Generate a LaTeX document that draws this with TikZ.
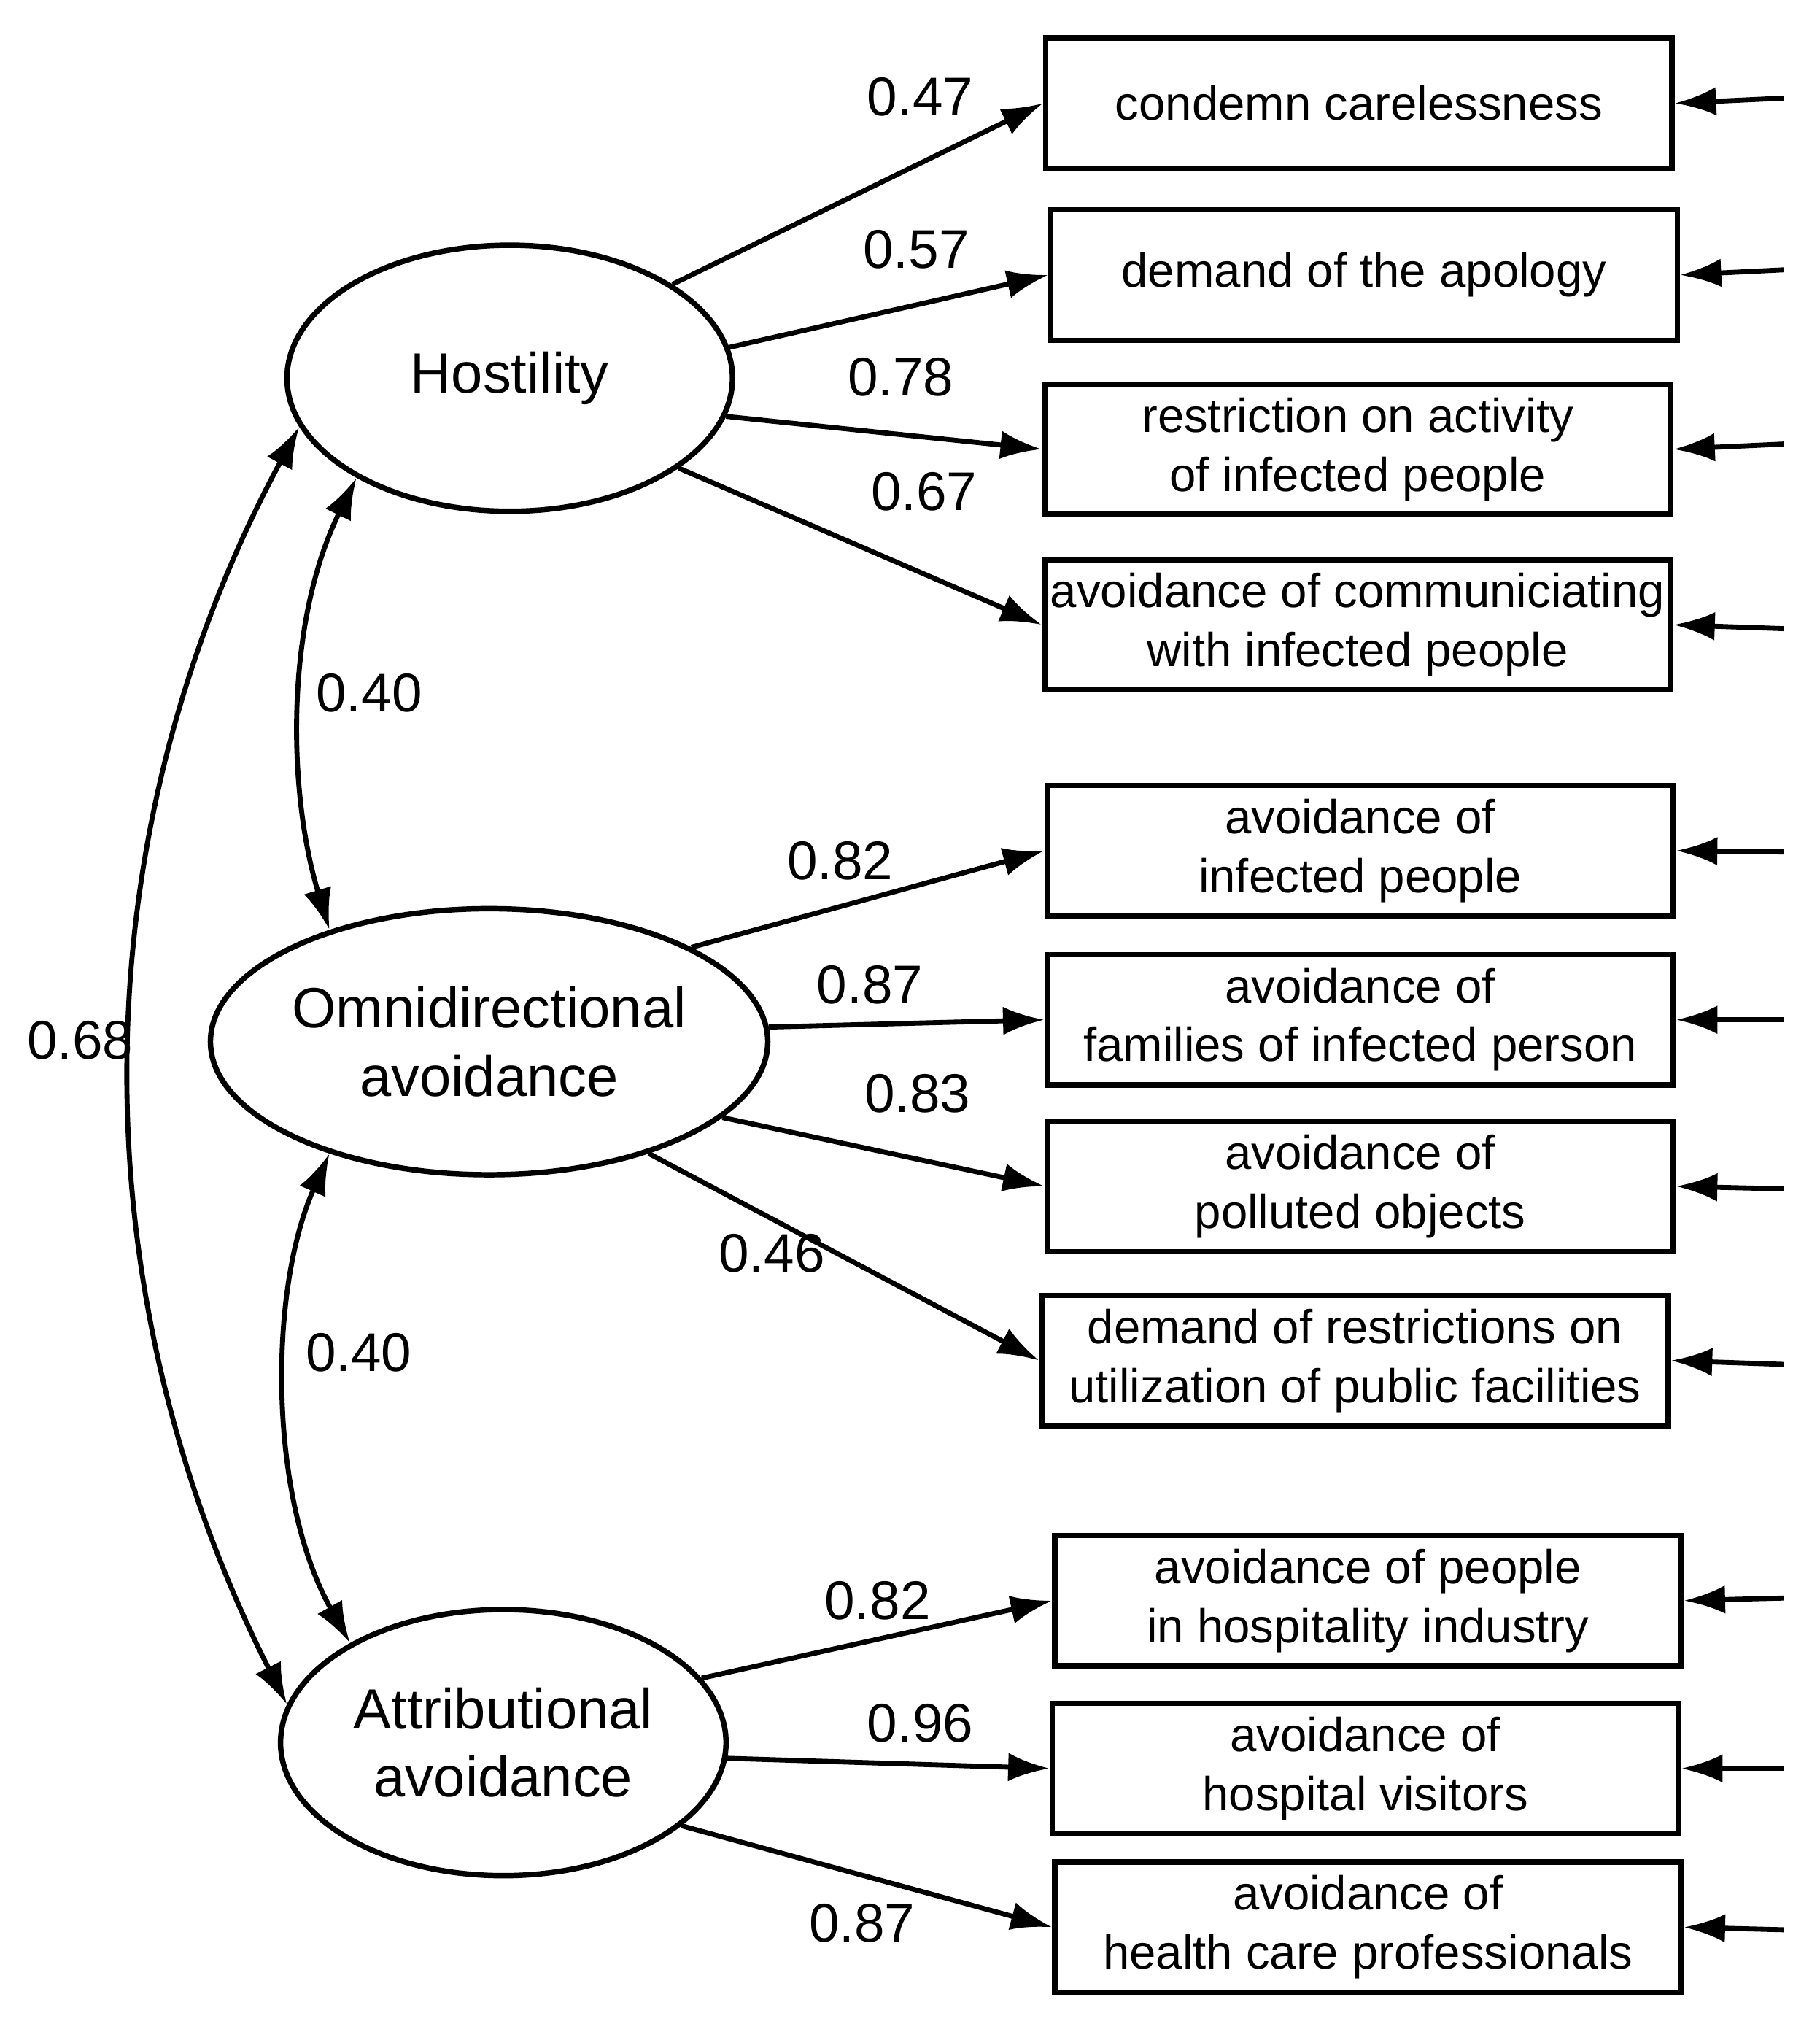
\documentclass[tikz,border=0pt]{standalone}
\usepackage{fontspec}
\setmainfont{Liberation Sans}
\usetikzlibrary{shapes.geometric,arrows.meta}
\begin{document}
\begin{tikzpicture}[x=0.01cm,y=-0.01cm,
 obs/.style={draw,line width=1.2pt,minimum width=4.85cm,minimum height=1.01cm,align=center,font=\fontsize{10.5}{13}\selectfont,inner sep=0pt},
 lat/.style={draw,ellipse,line width=1.2pt,minimum width=3.45cm,minimum height=2.06cm,align=center,font=\fontsize{12.5}{15}\selectfont,inner sep=0pt},
 arr/.style={line width=1.1pt,-{Latex[length=3.2mm,width=2.2mm]}},
 cov/.style={line width=1.1pt,{Latex[length=3.2mm,width=2.2mm]}-{Latex[length=3.2mm,width=2.2mm]}},
 num/.style={font=\fontsize{12}{14}\selectfont}]
\useasboundingbox (0,0) rectangle (1410,1568);
\node[lat] (h) at (395,293) {Hostility};
\node[lat] (o) at (379,807) {Omnidirectional\\avoidance};
\node[lat] (a) at (390,1350) {Attributional\\avoidance};
\node[obs] (b1) at (1053,80) {condemn carelessness};
\node[obs] (b2) at (1057,213) {demand of the apology};
\node[obs] (b3) at (1052,348) {restriction on activity\\of infected people};
\node[obs] (b4) at (1052,484) {avoidance of communiciating\\with infected people};
\node[obs] (b5) at (1054,659) {avoidance of\\infected people};
\node[obs] (b6) at (1054,790) {avoidance of\\families of infected person};
\node[obs] (b7) at (1054,919) {avoidance of\\polluted objects};
\node[obs] (b8) at (1050,1054) {demand of restrictions on\\utilization of public facilities};
\node[obs] (b9) at (1060,1240) {avoidance of people\\in hospitality industry};
\node[obs] (b10) at (1058,1370) {avoidance of\\hospital visitors};
\node[obs] (b11) at (1060,1493) {avoidance of\\health care professionals};
\foreach \b/\y in {b1/76,b2/209,b3/344,b4/487,b5/660,b6/790,b7/921,b8/1057,b9/1238,b10/1370,b11/1495}{
 \coordinate (e\b) at (1382,\y);
 \draw[arr] (e\b) -- (\b.east);}
\draw[arr] (h.30) -- (b1.west);
\draw[arr] (h.8) -- (b2.west);
\draw[arr] (h.-10) -- (b3.west);
\draw[arr] (h.-28) -- (b4.west);
\draw[arr] (o.25) -- (b5.west);
\draw[arr] (o.3) -- (b6.west);
\draw[arr] (o.-18) -- (b7.west);
\draw[arr] (o.-35) -- (b8.west);
\draw[arr] (a.18) -- (b9.west);
\draw[arr] (a.-4) -- (b10.west);
\draw[arr] (a.-25) -- (b11.west);
\node[num] at (713,75) {0.47};
\node[num] at (710,193) {0.57};
\node[num] at (698,292) {0.78};
\node[num] at (716,381) {0.67};
\node[num] at (651,667) {0.82};
\node[num] at (674,763) {0.87};
\node[num] at (711,847) {0.83};
\node[num] at (598,971) {0.46};
\node[num] at (680,1240) {0.82};
\node[num] at (713,1335) {0.96};
\node[num] at (668,1490) {0.87};
\node[num] at (286,537) {0.40};
\node[num] at (278,1048) {0.40};
\node[num] at (62,806) {0.68};
\draw[cov] (h.213) .. controls (222,480) and (222,610) .. (o.145);
\draw[cov] (o.215) .. controls (208,1000) and (208,1160) .. (a.147);
\draw[cov] (h.193) .. controls (60,650) and (60,1000) .. (a.170);
\end{tikzpicture}
\end{document}
